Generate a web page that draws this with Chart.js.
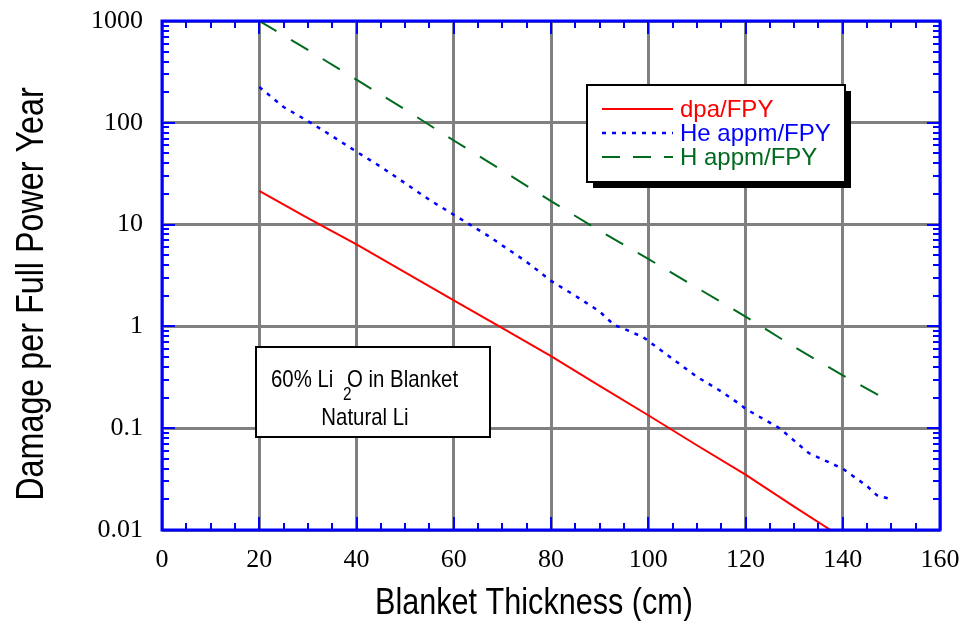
<!DOCTYPE html>
<html>
<head>
<meta charset="utf-8">
<script src="https://cdn.jsdelivr.net/npm/chart.js@4.4.1/dist/chart.umd.min.js"></script>
<style>
  html, body { margin: 0; padding: 0; background: #fff; }
  #wrap { width: 966px; height: 621px; }
</style>
</head>
<body>
<div id="wrap"><canvas id="chart" width="966" height="621"></canvas></div>
<script>
// values
const dpaX = [20, 30, 40, 50, 60, 70, 80, 90, 100, 110, 120, 130, 137.5];
const dpaY = [21.5, 11.6, 6.4, 3.4, 1.8, 0.96, 0.51, 0.26, 0.134, 0.068, 0.035, 0.017, 0.01];

const heX = [20, 25, 30, 35, 40, 45, 50, 55, 60, 67, 75, 80, 85, 90, 93, 95, 99, 100, 104, 110, 115, 119, 120, 127, 133, 140, 145, 147, 150];
const heY = [225, 143, 104, 74, 52, 37, 25.5, 17.5, 12.5, 7.8, 4.3, 2.8, 2.0, 1.4, 1.03, 0.95, 0.78, 0.72, 0.52, 0.32, 0.23, 0.17, 0.155, 0.1, 0.057, 0.04, 0.027, 0.022, 0.02];

const hX = [20, 30, 40, 50, 60, 70, 80, 90, 100, 110, 120, 130, 140, 150];
const hY = [1000, 520, 265, 135, 67, 34, 17, 8.7, 4.6, 2.4, 1.25, 0.63, 0.33, 0.18];

const seriesNames = ['dpa/FPY', 'He appm/FPY', 'H appm/FPY'];
const seriesColors = ['#ff0000', '#0000ff', '#006a1e'];
const seriesDash = [[], [4, 6], [20, 17]];

const xTickValues = [0, 20, 40, 60, 80, 100, 120, 140, 160];
const yTickValues = [0.01, 0.1, 1, 10, 100, 1000];
const yTickLabels = ['0.01', '0.1', '1', '10', '100', '1000'];

const xTitle = 'Blanket Thickness (cm)';
const yTitle = 'Damage per Full Power Year';
const noteLines = ['60% Li', '2', 'O in Blanket', 'Natural Li'];

function pts(xs, ys) {
    return xs.map((x, i) => ({ x: x, y: ys[i] }));
}

// narrow sans text, drawn by squeezing Liberation Sans
function narrowText(ctx, text, x, y, size, align) {
    ctx.save();
    ctx.font = size + 'px "Liberation Sans", Arial, sans-serif';
    ctx.textBaseline = 'alphabetic';
    ctx.textAlign = align || 'left';
    ctx.translate(x, y);
    ctx.scale(0.85, 1);
    ctx.fillText(text, 0, 0);
    ctx.restore();
}

const decorPlugin = {
    id: 'decor',
    afterDraw(chart) {
        const ctx = chart.ctx;
        const a = chart.chartArea;
        const xs = chart.scales.x;
        const ys = chart.scales.y;

        ctx.save();
        // minor / major ticks inside the frame, all four sides
        ctx.strokeStyle = '#0000ff';
        ctx.lineWidth = 2;
        ctx.beginPath();
        for (let v = 0; v <= 160; v += 5) {
            const px = Math.round(xs.getPixelForValue(v));
            const len = v % 20 === 0 ? 13 : 7;
            ctx.moveTo(px, a.bottom); ctx.lineTo(px, a.bottom - len);
            ctx.moveTo(px, a.top); ctx.lineTo(px, a.top + len);
        }
        for (let e = -2; e <= 3; e++) {
            for (let k = 1; k <= 9; k++) {
                const v = k * Math.pow(10, e);
                if (v > 1000) break;
                const py = Math.round(ys.getPixelForValue(v));
                const len = k === 1 ? 13 : 7;
                ctx.moveTo(a.left, py); ctx.lineTo(a.left + len, py);
                ctx.moveTo(a.right, py); ctx.lineTo(a.right - len, py);
            }
        }
        ctx.stroke();

        // frame
        ctx.lineWidth = 3;
        ctx.strokeRect(a.left, a.top, a.right - a.left, a.bottom - a.top);

        // axis titles
        ctx.fillStyle = '#000';
        narrowText(ctx, xTitle, 534, 614, 36, 'center');
        ctx.save();
        ctx.translate(43, 294);
        ctx.rotate(-Math.PI / 2);
        narrowText(ctx, yTitle, 0, 0, 38, 'center');
        ctx.restore();

        // legend box with drop shadow
        const lx = 587, ly = 85, lw = 258, lh = 97;
        ctx.fillStyle = '#000';
        ctx.fillRect(lx + 6, ly + 6, lw, lh);
        ctx.fillStyle = '#fff';
        ctx.fillRect(lx, ly, lw, lh);
        ctx.strokeStyle = '#000';
        ctx.lineWidth = 2;
        ctx.strokeRect(lx, ly, lw, lh);
        const rows = [109, 133, 157];
        ctx.font = '24px "Liberation Sans", Arial, sans-serif';
        ctx.textBaseline = 'middle';
        ctx.textAlign = 'left';
        rows.forEach((ry, i) => {
            ctx.strokeStyle = seriesColors[i];
            ctx.lineWidth = i === 1 ? 2.5 : 2;
            ctx.setLineDash(i === 2 ? [18, 13] : seriesDash[i]);
            ctx.beginPath();
            ctx.moveTo(602, ry);
            ctx.lineTo(673, ry);
            ctx.stroke();
            ctx.setLineDash([]);
            ctx.fillStyle = seriesColors[i];
            ctx.fillText(seriesNames[i], 680, ry + 1);
        });

        // note box
        const bx = 256, by = 347, bw = 234, bh = 90;
        ctx.fillStyle = '#fff';
        ctx.fillRect(bx, by, bw, bh);
        ctx.strokeStyle = '#000';
        ctx.lineWidth = 2;
        ctx.strokeRect(bx, by, bw, bh);
        ctx.fillStyle = '#000';
        narrowText(ctx, noteLines[0], 271, 387, 24);
        narrowText(ctx, noteLines[1], 343, 400, 18);
        narrowText(ctx, noteLines[2], 347, 387, 24);
        narrowText(ctx, noteLines[3], 365, 425, 24, 'center');
        ctx.restore();
    }
};

new Chart(document.getElementById('chart'), {
    type: 'line',
    data: {
        datasets: [
            { label: seriesNames[0], data: pts(dpaX, dpaY) },
            { label: seriesNames[1], data: pts(heX, heY) },
            { label: seriesNames[2], data: pts(hX, hY) }
        ].map((d, i) => Object.assign(d, {
            borderColor: seriesColors[i],
            borderWidth: i === 1 ? 2.5 : 2,
            borderDash: seriesDash[i],
            borderCapStyle: 'butt',
            pointRadius: 0,
            tension: 0,
            fill: false
        }))
    },
    options: {
        responsive: false,
        animation: false,
        devicePixelRatio: 1,
        layout: { padding: { left: 0, top: 21, right: 26, bottom: 0 } },
        plugins: {
            legend: { display: false },
            tooltip: { enabled: false }
        },
        scales: {
            x: {
                type: 'linear',
                min: 0,
                max: 160,
                afterBuildTicks: s => { s.ticks = xTickValues.map(v => ({ value: v })); },
                afterFit: s => { s.height = 91; s.paddingLeft = 0; s.paddingRight = 0; },
                grid: { color: '#808080', lineWidth: 3, drawTicks: false },
                border: { display: false },
                ticks: {
                    padding: 15,
                    color: '#000',
                    maxRotation: 0,
                    font: { family: '"Liberation Serif", "Times New Roman", serif', size: 26 },
                    callback: v => String(v)
                }
            },
            y: {
                type: 'logarithmic',
                min: 0.01,
                max: 1000,
                afterBuildTicks: s => { s.ticks = yTickValues.map(v => ({ value: v })); },
                afterFit: s => { s.width = 162; s.paddingTop = 0; s.paddingBottom = 0; },
                grid: { color: '#808080', lineWidth: 3, drawTicks: false },
                border: { display: false },
                ticks: {
                    padding: 19,
                    color: '#000',
                    font: { family: '"Liberation Serif", "Times New Roman", serif', size: 26 },
                    callback: v => {
                        const i = yTickValues.findIndex(t => Math.abs(t - v) < t * 1e-6);
                        return i >= 0 ? yTickLabels[i] : '';
                    }
                }
            }
        }
    },
    plugins: [decorPlugin]
});
</script>
</body>
</html>
